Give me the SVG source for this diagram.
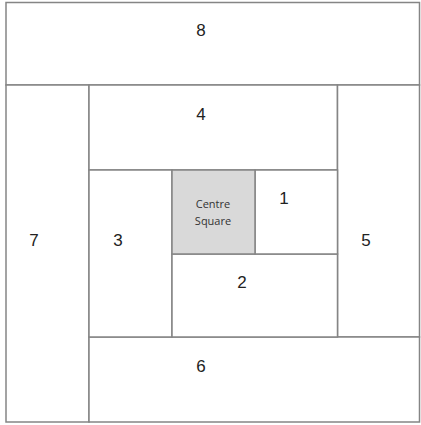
<svg xmlns="http://www.w3.org/2000/svg" width="421" height="425" viewBox="0 0 421 425">
<style>
.b{fill:#fff;stroke:#858585;stroke-width:1.5}
.c{fill:#d9d9d9;stroke:#858585;stroke-width:1.5}
.n{font-family:"Liberation Sans",Arial,sans-serif;font-size:17px;fill:#222;text-anchor:middle}
.s{font-family:"Open Sans","Liberation Sans",sans-serif;font-size:11px;fill:#333;text-anchor:middle}
</style>
<rect width="421" height="425" fill="#fff"/>
<g id="n8"><rect class="b" x="6" y="2.5" width="413.5" height="82.5"/><text class="n" x="201" y="36">8</text></g>
<g id="n7"><rect class="b" x="6" y="85" width="83" height="337"/><text class="n" x="34" y="246">7</text></g>
<g id="n4"><rect class="b" x="89" y="85" width="248.5" height="85"/><text class="n" x="201" y="120">4</text></g>
<g id="n5"><rect class="b" x="337.5" y="85" width="82" height="252"/><text class="n" x="366" y="246">5</text></g>
<g id="n6"><rect class="b" x="89" y="337" width="330.5" height="85"/><text class="n" x="201" y="372">6</text></g>
<g id="n3"><rect class="b" x="89" y="170" width="83" height="167"/><text class="n" x="118" y="246">3</text></g>
<g id="n2"><rect class="b" x="172" y="254" width="165.5" height="83"/><text class="n" x="242" y="288">2</text></g>
<g id="n1"><rect class="b" x="255" y="170" width="82.5" height="84"/><text class="n" x="284" y="204">1</text></g>
<g id="centre"><rect class="c" x="172" y="170" width="83" height="84"/><text class="s" x="213" y="208">Centre</text><text class="s" x="213" y="225">Square</text></g>
<g id="connectors"></g>
</svg>
